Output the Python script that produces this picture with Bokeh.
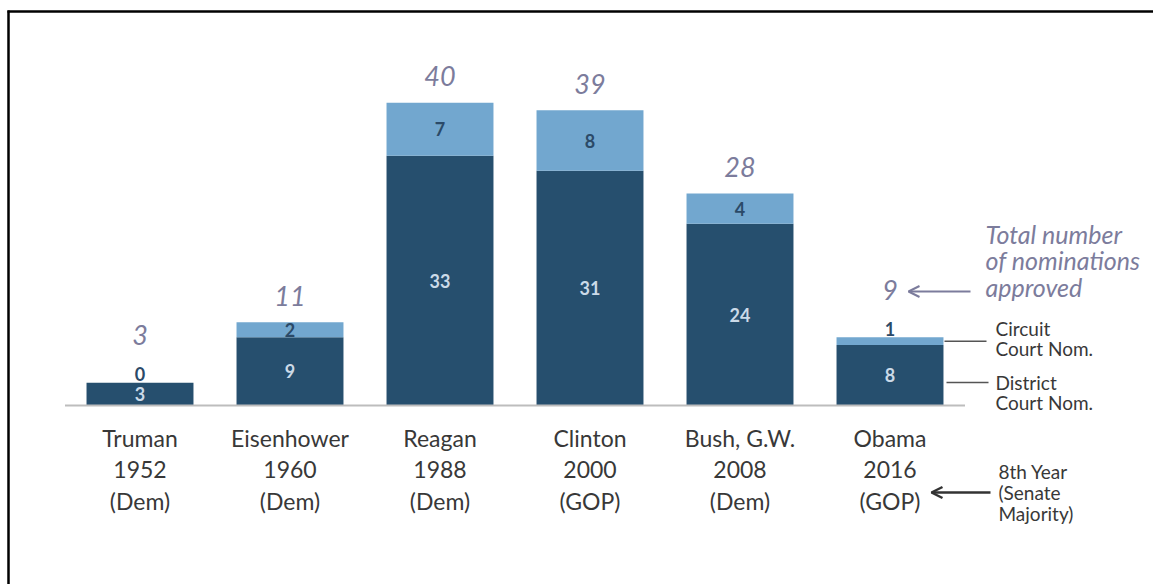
from bokeh.plotting import figure
from bokeh.models import ColumnDataSource, Range1d, Arrow, OpenHead
from bokeh.core.properties import value
from bokeh.embed import file_html
from bokeh.resources import INLINE

# Judicial nominations approved in each president's 8th year
presidents = ["Truman", "Eisenhower", "Reagan", "Clinton", "Bush, G.W.", "Obama"]
years = ["1952", "1960", "1988", "2000", "2008", "2016"]
senate_majority = ["(Dem)", "(Dem)", "(Dem)", "(GOP)", "(Dem)", "(GOP)"]
district_noms = [3, 9, 33, 31, 24, 8]
circuit_noms = [0, 2, 7, 8, 4, 1]
total_noms = [d + c for d, c in zip(district_noms, circuit_noms)]

W, H = 1153, 584
# canvas geometry: category spacing / first centre (px), px per nomination, baseline (px from top)
X_STEP, X_FIRST = 150.0, 139.5
Y_STEP, BASE = 7.57, 405.0


def px_x(px):
    return (px - X_FIRST) / X_STEP


def px_y(py):
    return (BASE - py) / Y_STEP


DARK = "#264f6e"
LIGHT = "#72a7cf"
TOTAL_COL = "#7c7c9c"
TEXT_COL = "#383838"
FONT = value("Lato")

p = figure(width=W, height=H, output_backend="svg", toolbar_location=None,
           x_range=Range1d(px_x(0), px_x(W)), y_range=Range1d(px_y(H), px_y(0)),
           min_border=0, outline_line_color=None, background_fill_color="white",
           border_fill_color="white")
p.axis.visible = False
p.grid.visible = False

idx = list(range(len(presidents)))
src = ColumnDataSource(dict(
    x=idx,
    district=district_noms,
    circuit=circuit_noms,
    total=total_noms,
    district_lbl=[str(v) for v in district_noms],
    circuit_lbl=[str(v) for v in circuit_noms],
    total_lbl=[str(v) for v in total_noms],
    district_y=[d / 2 for d in district_noms],
    circuit_y=[d + c / 2 if c >= 2 else d + c + 1.15
               for d, c in zip(district_noms, circuit_noms)],
    total_y=[t + (3.5 if c >= 2 else 6.3) for t, c in zip(total_noms, circuit_noms)],
    cat_lbl=[f"{n}\n{y}\n{s}" for n, y, s in zip(presidents, years, senate_majority)],
))

BAR_W = 0.713
p.vbar(x="x", bottom=0, top="district", width=BAR_W, fill_color=DARK,
       line_color=None, source=src)
p.vbar(x="x", bottom="district", top="total", width=BAR_W, fill_color=LIGHT,
       line_color=None, source=src)

# baseline
p.segment(x0=[-0.5], x1=[len(presidents) - 0.5], y0=[0], y1=[0],
          line_color="#bdbdbd", line_width=2)

# segment values
p.text(x="x", y="district_y", text="district_lbl", source=src, text_font=FONT,
       text_font_style="bold", text_font_size="18px", text_color="#cbdae8",
       text_align="center", text_baseline="middle")
p.text(x="x", y="circuit_y", text="circuit_lbl", source=src, text_font=FONT,
       text_font_style="bold", text_font_size="18px", text_color="#2b4a68",
       text_align="center", text_baseline="middle")

# totals
p.text(x="x", y="total_y", text="total_lbl", source=src, text_font=FONT,
       text_font_style="italic", text_font_size="27px", text_color=TOTAL_COL,
       text_align="center", text_baseline="middle")

# category labels
p.text(x="x", y=px_y(469), text="cat_lbl", source=src, text_font=FONT,
       text_font_size="23px", text_color=TEXT_COL, text_align="center",
       text_baseline="middle", text_line_height=1.13)

# right-hand annotations
p.text(x=[px_x(985)], y=[px_y(260)], text=["Total number\nof nominations\napproved"],
       text_font=FONT, text_font_style="italic", text_font_size="25px",
       text_color=TOTAL_COL, text_align="left", text_baseline="middle",
       text_line_height=0.89)
p.add_layout(Arrow(x_start=px_x(970), x_end=px_x(908), y_start=px_y(291), y_end=px_y(291),
                   line_color=TOTAL_COL, line_width=2,
                   end=OpenHead(size=11, line_color=TOTAL_COL, line_width=2)))

p.text(x=[px_x(995)], y=[px_y(338)], text=["Circuit\nCourt Nom."], text_font=FONT,
       text_font_size="19px", text_color=TEXT_COL, text_align="left",
       text_baseline="middle", text_line_height=0.88)
p.text(x=[px_x(995)], y=[px_y(392)], text=["District\nCourt Nom."], text_font=FONT,
       text_font_size="19px", text_color=TEXT_COL, text_align="left",
       text_baseline="middle", text_line_height=0.88)
last = len(presidents) - 1
p.segment(x0=[px_x(944)], x1=[px_x(986)],
          y0=[district_noms[last] + circuit_noms[last] / 2],
          y1=[district_noms[last] + circuit_noms[last] / 2],
          line_color="#555555", line_width=1.5)
p.segment(x0=[px_x(946)], x1=[px_x(988)], y0=[px_y(382)], y1=[px_y(382)],
          line_color="#555555", line_width=1.5)

p.text(x=[px_x(998)], y=[px_y(492)], text=["8th Year\n(Senate\nMajority)"], text_font=FONT,
       text_font_size="19px", text_color=TEXT_COL, text_align="left",
       text_baseline="middle", text_line_height=0.9)
p.add_layout(Arrow(x_start=px_x(990), x_end=px_x(931), y_start=px_y(492), y_end=px_y(492),
                   line_color="#333333", line_width=2.5,
                   end=OpenHead(size=11, line_color="#333333", line_width=2.5)))

# frame edges (top and left)
p.segment(x0=[px_x(7)], x1=[px_x(W + 5)], y0=[px_y(11)], y1=[px_y(11)],
          line_color="black", line_width=2.5)
p.segment(x0=[px_x(8)], x1=[px_x(8)], y0=[px_y(10)], y1=[px_y(H + 5)],
          line_color="black", line_width=2.5)

open("out.html", "w").write(file_html(p, INLINE))
